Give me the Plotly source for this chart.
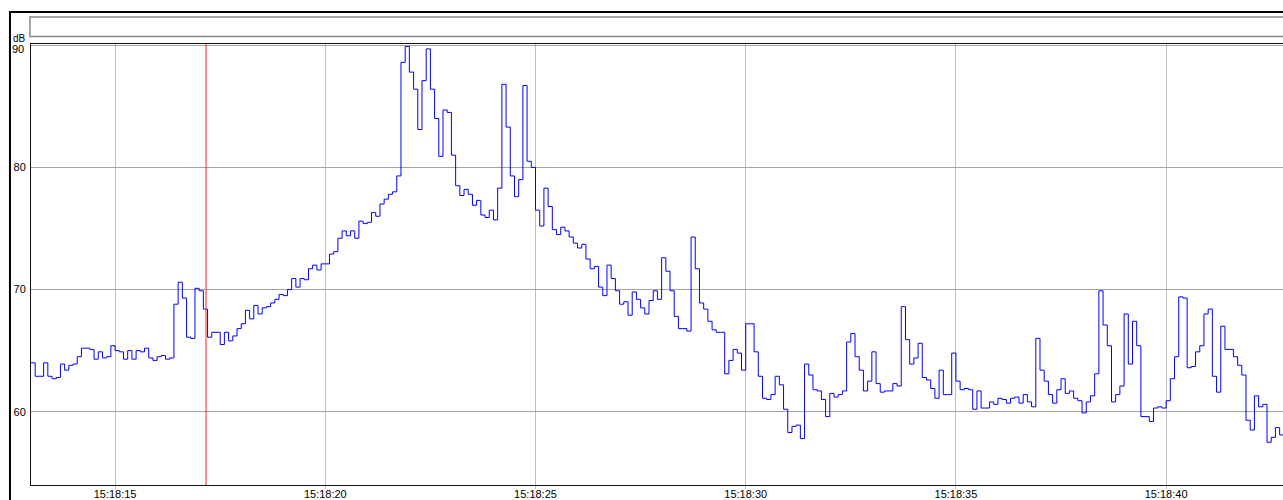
import datetime as dt
import plotly.graph_objects as go

# ---- data -------------------------------------------------------------
start_time = "2000-01-01 15:18:13.0"
sample_ms = 100          # one level every 0.1 s
end_time = "2000-01-01 15:18:42.78"
marker_time = "2000-01-01 15:18:17.163"

level_db = [
    64.0, 62.9, 62.9, 64.0, 62.9, 62.7, 62.8, 63.9, 63.4, 63.8,
    63.9, 64.5, 65.2, 65.2, 65.1, 64.3, 64.9, 64.4, 64.5, 65.4,
    65.0, 64.9, 64.3, 65.0, 64.3, 65.0, 64.9, 65.2, 64.4, 64.2,
    64.5, 64.6, 64.3, 64.4, 68.8, 70.6, 69.3, 66.1, 66.0, 70.1,
    69.9, 68.4, 66.1, 66.5, 66.5, 65.5, 66.5, 65.8, 66.2, 66.8,
    67.2, 68.3, 67.6, 68.7, 68.0, 68.5, 68.6, 68.9, 69.2, 69.6,
    69.5, 70.0, 70.9, 70.2, 70.9, 70.8, 71.7, 72.0, 71.6, 72.1,
    72.1, 72.9, 73.1, 74.2, 74.8, 74.4, 74.8, 74.2, 75.6, 75.4,
    75.5, 76.3, 76.0, 77.0, 77.4, 77.8, 78.0, 79.3, 88.6, 89.9,
    87.8, 86.4, 83.1, 87.1, 89.7, 86.4, 84.0, 80.9, 84.7, 84.5,
    81.0, 78.5, 77.7, 78.2, 77.8, 76.9, 77.3, 76.1, 75.9, 76.5,
    75.7, 78.3, 86.8, 83.3, 79.3, 77.6, 79.0, 86.7, 80.5, 80.0,
    76.5, 75.2, 78.3, 76.8, 74.9, 74.5, 75.1, 74.8, 74.3, 73.8,
    73.4, 73.7, 72.5, 71.7, 71.9, 70.2, 69.5, 72.0, 70.9, 69.9,
    68.8, 69.0, 67.9, 69.8, 69.2, 68.5, 68.0, 69.1, 69.9, 69.2,
    72.6, 71.5, 69.9, 67.8, 66.8, 66.8, 66.6, 74.3, 71.7, 68.9,
    68.4, 67.4, 66.7, 66.5, 66.5, 63.1, 64.2, 65.1, 64.8, 63.4,
    67.2, 67.2, 64.9, 62.9, 61.1, 61.0, 61.4, 62.9, 62.2, 60.2,
    58.3, 58.8, 58.9, 57.8, 63.9, 63.0, 61.8, 61.7, 61.0, 59.6,
    61.5, 61.2, 61.4, 61.7, 65.7, 66.4, 64.5, 63.4, 61.7, 62.5,
    64.9, 62.3, 61.6, 61.7, 61.7, 62.3, 62.1, 68.6, 65.9, 63.9,
    64.4, 65.6, 62.8, 62.6, 61.9, 61.1, 63.4, 61.4, 61.4, 64.8,
    62.5, 61.8, 61.9, 61.8, 60.2, 61.7, 60.3, 60.3, 60.8, 60.6,
    61.1, 61.0, 60.7, 61.1, 61.2, 60.7, 61.4, 60.8, 60.4, 66.0,
    63.4, 62.5, 61.4, 60.7, 61.8, 62.7, 61.5, 61.7, 61.1, 60.9,
    59.9, 60.8, 61.3, 63.1, 69.9, 67.1, 65.4, 60.8, 61.4, 62.1,
    68.0, 63.9, 67.4, 65.4, 59.6, 59.6, 59.2, 60.3, 60.4, 60.3,
    60.9, 62.7, 64.5, 69.4, 69.3, 63.6, 63.7, 64.9, 65.4, 68.0,
    68.4, 62.9, 61.6, 67.0, 65.1, 65.1, 64.5, 63.8, 63.0, 59.3,
    58.5, 61.3, 60.4, 60.6, 57.5, 57.9, 58.7, 58.1,
]

y_range = [54.0, 90.1]
y_ticks = [60, 70, 80, 90]
y_tick_labels = ["60", "70", "80", "90"]
x_tick_start = "2000-01-01 15:18:15"
x_tick_step_ms = 5000
unit_label = "dB"

# ---- build ------------------------------------------------------------
t0 = dt.datetime.fromisoformat(start_time)
times = [t0 + dt.timedelta(milliseconds=sample_ms * i) for i in range(len(level_db) + 1)]
values = level_db + [level_db[-1]]

fig = go.Figure()
fig.add_trace(go.Scatter(
    x=times, y=values, mode="lines",
    line=dict(shape="hv", color="#0000ff", width=1),
    hoverinfo="skip", showlegend=False,
))

grid_h = "#a4a4a4"
grid_v = "#bdbdbd"

# the top tick label sits just below the frame edge, as in the original
axis_text = y_tick_labels[:-1] + [""]

fig.update_layout(
    width=1283, height=500,
    margin=dict(l=31, r=0, t=44, b=15, autoexpand=False),
    paper_bgcolor="white", plot_bgcolor="white",
    font=dict(family="Liberation Sans, Arial, sans-serif", size=11, color="black"),
    xaxis=dict(
        type="date", range=[start_time, end_time], automargin=False,
        tick0=x_tick_start, dtick=x_tick_step_ms, tickformat="%H:%M:%S",
        showgrid=True, gridcolor=grid_v, gridwidth=1,
        ticks="outside", ticklen=3, tickcolor=grid_v, ticklabelstandoff=-4,
        showline=True, linecolor="#111111", linewidth=1, mirror=True,
        zeroline=False, tickfont=dict(size=11, color="black"),
    ),
    yaxis=dict(
        range=y_range, tickvals=y_ticks, ticktext=axis_text, automargin=False,
        showgrid=True, gridcolor=grid_h, gridwidth=1,
        ticks="outside", ticklen=2, tickcolor="white",
        showline=True, linecolor="#111111", linewidth=1,
        zeroline=False, tickfont=dict(size=11, color="black"),
    ),
    shapes=[
        # red cursor line
        dict(type="line", xref="x", yref="paper", x0=marker_time, x1=marker_time,
             y0=0, y1=1, line=dict(color="#ff2020", width=1)),
        # outer frame
        dict(type="rect", xref="paper", yref="paper",
             x0=-0.0168, x1=1.05, y0=-0.2, y1=1.0726,
             line=dict(color="black", width=2)),
        # empty header box
        dict(type="rect", xref="paper", yref="paper",
             x0=-0.0008, x1=1.05, y0=1.0170, y1=1.0612,
             line=dict(color="#8a8a8a", width=1.5)),
    ],
    annotations=[
        dict(text=unit_label, xref="paper", yref="paper", x=-0.016, y=0.996,
             xanchor="left", yanchor="bottom", showarrow=False,
             font=dict(size=10, color="black")),
        dict(text=y_tick_labels[-1], xref="paper", yref="y", x=0, y=y_ticks[-1],
             xanchor="right", yanchor="middle", xshift=-5, yshift=-4,
             showarrow=False, font=dict(size=11, color="black")),
    ],
)

fig.write_html("out.html", config={"displayModeBar": False},
               post_script="document.body.style.margin='0px';")
